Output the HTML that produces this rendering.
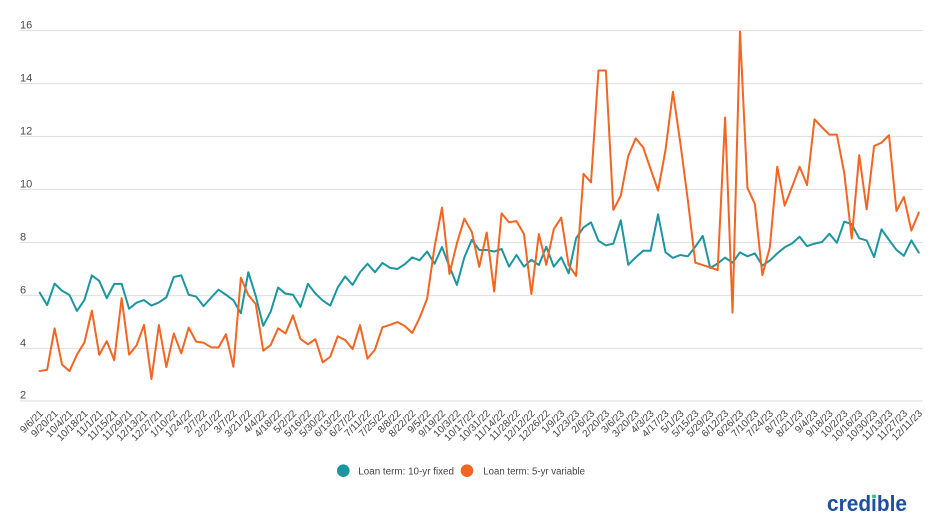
<!DOCTYPE html>
<html>
<head>
<meta charset="utf-8">
<style>
  html,body{margin:0;padding:0;background:#fff;}
  body{width:931px;height:523px;overflow:hidden;}
  svg{display:block;font-family:"Liberation Sans",Arial,sans-serif;}
  .yl{font-size:11px;fill:#4a4a4a;}
  .xl{font-size:10px;fill:#444;}
  .grid line{stroke:#e2e2e2;stroke-width:1.2;}
</style>
</head>
<body>
<svg width="931" height="523" viewBox="0 0 931 523" xmlns="http://www.w3.org/2000/svg">
  <rect width="931" height="523" fill="#fff"/>
  <g class="grid">
    <line x1="20" x2="923" y1="30.5" y2="30.5"/>
    <line x1="20" x2="923" y1="83.5" y2="83.5"/>
    <line x1="20" x2="923" y1="136.5" y2="136.5"/>
    <line x1="20" x2="923" y1="189.5" y2="189.5"/>
    <line x1="20" x2="923" y1="242.5" y2="242.5"/>
    <line x1="20" x2="923" y1="295.5" y2="295.5"/>
    <line x1="20" x2="923" y1="348.5" y2="348.5"/>
    <line x1="20" x2="923" y1="401" y2="401"/>
  </g>
  <g class="yl">
    <text x="20" y="28.3">16</text>
    <text x="20" y="81.3">14</text>
    <text x="20" y="134.3">12</text>
    <text x="20" y="187.3">10</text>
    <text x="20" y="240.3">8</text>
    <text x="20" y="293.3">6</text>
    <text x="20" y="346.3">4</text>
    <text x="20" y="398.6">2</text>
  </g>

  <g transform="matrix(7.45 0 0 -26.5 39.7 454)" fill="none" stroke-linejoin="round" stroke-linecap="round">
    <polyline vector-effect="non-scaling-stroke" stroke="#1b96a0" stroke-width="2" points="0,6.09 1,5.62 2,6.43 3,6.16 4,6.00 5,5.40 6,5.81 7,6.74 8,6.53 9,5.88 10,6.42 11,6.42 12,5.48 13,5.71 14,5.81 15,5.60 16,5.72 17,5.91 18,6.68 19,6.74 20,6.01 21,5.94 22,5.58 23,5.90 24,6.20 25,6.01 26,5.80 27,5.31 28,6.86 29,5.96 30,4.84 31,5.37 32,6.28 33,6.05 34,6.01 35,5.55 36,6.42 37,6.06 38,5.79 39,5.60 40,6.28 41,6.70 42,6.38 43,6.86 44,7.18 45,6.86 46,7.21 47,7.03 48,6.98 49,7.16 50,7.42 51,7.31 52,7.64 53,7.18 54,7.81 55,7.07 56,6.38 57,7.42 58,8.08 59,7.70 60,7.70 61,7.64 62,7.74 63,7.07 64,7.51 65,7.07 66,7.33 67,7.13 68,7.82 69,7.07 70,7.42 71,6.82 72,8.14 73,8.55 74,8.74 75,8.05 76,7.87 77,7.94 78,8.82 79,7.14 80,7.42 81,7.67 82,7.67 83,9.04 84,7.61 85,7.40 86,7.51 87,7.46 88,7.82 89,8.23 90,7.02 91,7.19 92,7.41 93,7.22 94,7.61 95,7.46 96,7.57 97,7.11 98,7.30 99,7.57 100,7.80 101,7.95 102,8.20 103,7.84 104,7.94 105,8.00 106,8.31 107,7.97 108,8.77 109,8.67 110,8.14 111,8.06 112,7.43 113,8.48 114,8.08 115,7.70 116,7.48 117,8.06 118,7.60"/>
    <polyline vector-effect="non-scaling-stroke" stroke="#f26522" stroke-width="2" points="0,3.13 1,3.18 2,4.74 3,3.37 4,3.13 5,3.75 6,4.21 7,5.41 8,3.74 9,4.26 10,3.54 11,5.88 12,3.75 13,4.10 14,4.87 15,2.83 16,4.87 17,3.28 18,4.55 19,3.80 20,4.77 21,4.24 22,4.20 23,4.03 24,4.02 25,4.52 26,3.29 27,6.65 28,6.00 29,5.66 30,3.90 31,4.11 32,4.74 33,4.55 34,5.23 35,4.34 36,4.14 37,4.33 38,3.46 39,3.67 40,4.44 41,4.30 42,3.96 43,4.86 44,3.60 45,3.94 46,4.78 47,4.87 48,4.98 49,4.83 50,4.57 51,5.14 52,5.86 53,7.82 54,9.30 55,6.79 56,7.95 57,8.88 58,8.38 59,7.06 60,8.36 61,6.13 62,9.08 63,8.74 64,8.79 65,8.30 66,6.04 67,8.30 68,7.14 69,8.48 70,8.92 71,7.13 72,6.72 73,10.57 74,10.25 75,14.47 76,14.47 77,9.21 78,9.75 79,11.25 80,11.91 81,11.57 82,10.75 83,9.94 84,11.47 85,13.67 86,11.72 87,9.58 88,7.22 89,7.13 90,7.04 91,6.94 92,12.70 93,5.33 94,15.94 95,10.04 96,9.43 97,6.75 98,7.79 99,10.84 100,9.37 101,10.09 102,10.84 103,10.15 104,12.63 105,12.33 106,12.05 107,12.05 108,10.59 109,8.13 110,11.28 111,9.23 112,11.62 113,11.75 114,12.03 115,9.17 116,9.70 117,8.43 118,9.11"/>
  </g>

  <g class="xl" text-anchor="end">
    <text transform="translate(43.7,414) rotate(-45)">9/6/21</text>
    <text transform="translate(58.6,414) rotate(-45)">9/20/21</text>
    <text transform="translate(73.5,414) rotate(-45)">10/4/21</text>
    <text transform="translate(88.4,414) rotate(-45)">10/18/21</text>
    <text transform="translate(103.3,414) rotate(-45)">11/1/21</text>
    <text transform="translate(118.2,414) rotate(-45)">11/15/21</text>
    <text transform="translate(133.1,414) rotate(-45)">11/29/21</text>
    <text transform="translate(148.0,414) rotate(-45)">12/13/21</text>
    <text transform="translate(162.9,414) rotate(-45)">12/27/21</text>
    <text transform="translate(177.8,414) rotate(-45)">1/10/22</text>
    <text transform="translate(192.7,414) rotate(-45)">1/24/22</text>
    <text transform="translate(207.6,414) rotate(-45)">2/7/22</text>
    <text transform="translate(222.5,414) rotate(-45)">2/21/22</text>
    <text transform="translate(237.4,414) rotate(-45)">3/7/22</text>
    <text transform="translate(252.3,414) rotate(-45)">3/21/22</text>
    <text transform="translate(267.2,414) rotate(-45)">4/4/22</text>
    <text transform="translate(282.1,414) rotate(-45)">4/18/22</text>
    <text transform="translate(297.0,414) rotate(-45)">5/2/22</text>
    <text transform="translate(311.9,414) rotate(-45)">5/16/22</text>
    <text transform="translate(326.8,414) rotate(-45)">5/30/22</text>
    <text transform="translate(341.7,414) rotate(-45)">6/13/22</text>
    <text transform="translate(356.6,414) rotate(-45)">6/27/22</text>
    <text transform="translate(371.5,414) rotate(-45)">7/11/22</text>
    <text transform="translate(386.4,414) rotate(-45)">7/25/22</text>
    <text transform="translate(401.3,414) rotate(-45)">8/8/22</text>
    <text transform="translate(416.2,414) rotate(-45)">8/22/22</text>
    <text transform="translate(431.1,414) rotate(-45)">9/5/22</text>
    <text transform="translate(446.0,414) rotate(-45)">9/19/22</text>
    <text transform="translate(460.9,414) rotate(-45)">10/3/22</text>
    <text transform="translate(475.8,414) rotate(-45)">10/17/22</text>
    <text transform="translate(490.7,414) rotate(-45)">10/31/22</text>
    <text transform="translate(505.6,414) rotate(-45)">11/14/22</text>
    <text transform="translate(520.5,414) rotate(-45)">11/28/22</text>
    <text transform="translate(535.4,414) rotate(-45)">12/12/22</text>
    <text transform="translate(550.3,414) rotate(-45)">12/26/22</text>
    <text transform="translate(565.2,414) rotate(-45)">1/9/23</text>
    <text transform="translate(580.1,414) rotate(-45)">1/23/23</text>
    <text transform="translate(595.0,414) rotate(-45)">2/6/23</text>
    <text transform="translate(609.9,414) rotate(-45)">2/20/23</text>
    <text transform="translate(624.8,414) rotate(-45)">3/6/23</text>
    <text transform="translate(639.7,414) rotate(-45)">3/20/23</text>
    <text transform="translate(654.6,414) rotate(-45)">4/3/23</text>
    <text transform="translate(669.5,414) rotate(-45)">4/17/23</text>
    <text transform="translate(684.4,414) rotate(-45)">5/1/23</text>
    <text transform="translate(699.3,414) rotate(-45)">5/15/23</text>
    <text transform="translate(714.2,414) rotate(-45)">5/29/23</text>
    <text transform="translate(729.1,414) rotate(-45)">6/12/23</text>
    <text transform="translate(744.0,414) rotate(-45)">6/26/23</text>
    <text transform="translate(758.9,414) rotate(-45)">7/10/23</text>
    <text transform="translate(773.8,414) rotate(-45)">7/24/23</text>
    <text transform="translate(788.7,414) rotate(-45)">8/7/23</text>
    <text transform="translate(803.6,414) rotate(-45)">8/21/23</text>
    <text transform="translate(818.5,414) rotate(-45)">9/4/23</text>
    <text transform="translate(833.4,414) rotate(-45)">9/18/23</text>
    <text transform="translate(848.3,414) rotate(-45)">10/2/23</text>
    <text transform="translate(863.2,414) rotate(-45)">10/16/23</text>
    <text transform="translate(878.1,414) rotate(-45)">10/30/23</text>
    <text transform="translate(893.0,414) rotate(-45)">11/13/23</text>
    <text transform="translate(907.9,414) rotate(-45)">11/27/23</text>
    <text transform="translate(922.8,414) rotate(-45)">12/11/23</text>
  </g>

  <!-- Legend -->
  <circle cx="343.3" cy="470.7" r="6.3" fill="#1b96a0"/>
  <text x="358.3" y="474.5" font-size="10" fill="#444" textLength="95.7" lengthAdjust="spacingAndGlyphs">Loan term: 10-yr fixed</text>
  <circle cx="467" cy="470.7" r="6.3" fill="#f26522"/>
  <text x="483.3" y="474.5" font-size="10" fill="#444" textLength="101.7" lengthAdjust="spacingAndGlyphs">Loan term: 5-yr variable</text>

  <!-- Logo -->
  <text x="827" y="511" font-size="22" font-weight="bold" fill="#1d4f9c" textLength="80" lengthAdjust="spacingAndGlyphs">credible</text>
  <rect x="872.1" y="494.6" width="3.8" height="3.8" rx="1" fill="#2fc38e"/>
</svg>
</body>
</html>
